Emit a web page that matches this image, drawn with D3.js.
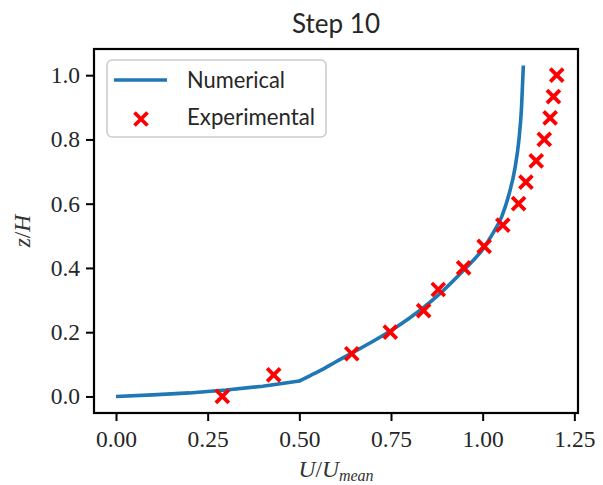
<!DOCTYPE html>
<html>
<head>
<meta charset="utf-8">
<script src="https://cdn.jsdelivr.net/npm/d3@7"></script>
<style>
  html, body { margin: 0; padding: 0; background: #fff; }
  svg { display: block; }
</style>
</head>
<body>
<svg id="chart" width="603" height="485"></svg>
<script>
// Numerical velocity profile (U/Umean vs z/H)
const numU = [0, 0.1, 0.2, 0.25, 0.3, 0.4, 0.5, 0.53, 0.566, 0.6, 0.648, 0.7, 0.748, 0.798, 0.839, 0.884, 0.948, 1.002, 1.029, 1.052, 1.072, 1.088, 1.099, 1.106, 1.111];
const numZ = [0, 0.005, 0.011, 0.0155, 0.02, 0.032, 0.048, 0.065, 0.086, 0.108, 0.138, 0.171, 0.204, 0.242, 0.277, 0.321, 0.393, 0.461, 0.510, 0.560, 0.630, 0.710, 0.800, 0.900, 1.030];
// index of the near-wall kink where the profile changes regime
const kinkIndex = 6;

// Experimental measurements
const expU = [0.29, 0.43, 0.643, 0.748, 0.839, 0.879, 0.948, 1.004, 1.055, 1.098, 1.118, 1.146, 1.168, 1.184, 1.193, 1.202];
const expZ = [0, 0.067, 0.133, 0.2, 0.267, 0.333, 0.4, 0.467, 0.533, 0.6, 0.667, 0.733, 0.8, 0.867, 0.933, 1.0];

const xTicks = [0, 0.25, 0.5, 0.75, 1.0, 1.25];
const yTicks = [0, 0.2, 0.4, 0.6, 0.8, 1.0];
const seriesNames = ["Numerical", "Experimental"];
const titleText = "Step 10";

const svg = d3.select("#chart");
const plot = { left: 94, right: 578, top: 49, bottom: 413 };

const x = d3.scaleLinear().domain([-0.06, 1.26]).range([plot.left, plot.right]);
const y = d3.scaleLinear().domain([-0.0515, 1.0815]).range([plot.bottom, plot.top]);

const serif = "'Liberation Serif', 'DejaVu Serif', serif";
const sans = "Lato, 'Open Sans', 'DejaVu Sans', sans-serif";
const textColor = "#262626";

// clip for data
svg.append("defs").append("clipPath").attr("id", "plotClip")
  .append("rect")
  .attr("x", plot.left).attr("y", plot.top)
  .attr("width", plot.right - plot.left).attr("height", plot.bottom - plot.top);

// x axis
const xAxis = svg.append("g")
  .attr("transform", `translate(0,${plot.bottom})`)
  .call(d3.axisBottom(x).tickValues(xTicks).tickFormat(d3.format(".2f")).tickSize(8).tickPadding(9));
xAxis.select(".domain").remove();
xAxis.selectAll(".tick line").attr("stroke", "#000").attr("stroke-width", 2);
xAxis.selectAll(".tick text")
  .attr("fill", textColor).attr("font-family", serif).attr("font-size", 23.5);

// y axis
const yAxis = svg.append("g")
  .attr("transform", `translate(${plot.left},0)`)
  .call(d3.axisLeft(y).tickValues(yTicks).tickFormat(d3.format(".1f")).tickSize(8).tickPadding(6));
yAxis.select(".domain").remove();
yAxis.selectAll(".tick line").attr("stroke", "#000").attr("stroke-width", 2);
yAxis.selectAll(".tick text")
  .attr("fill", textColor).attr("font-family", serif).attr("font-size", 23.5);

// data layer
const data = svg.append("g").attr("clip-path", "url(#plotClip)");

const pts = numU.map((u, i) => [u, numZ[i]]);
const nearWall = d3.line().x(d => x(d[0])).y(d => y(d[1]));
const outer = d3.line().curve(d3.curveMonotoneX).x(d => x(d[0])).y(d => y(d[1]));
const numPath = nearWall(pts.slice(0, kinkIndex + 1)) + outer(pts.slice(kinkIndex));

data.append("path")
  .attr("d", numPath)
  .attr("fill", "none")
  .attr("stroke", "#1f77b4")
  .attr("stroke-width", 3.6)
  .attr("stroke-linejoin", "round")
  .attr("stroke-linecap", "butt");
// round joint at the kink
data.append("circle")
  .attr("cx", x(numU[kinkIndex])).attr("cy", y(numZ[kinkIndex])).attr("r", 1.8)
  .attr("fill", "#1f77b4");

const half = 6.5;
const crossPath = `M${-half},${-half}L${half},${half}M${-half},${half}L${half},${-half}`;
data.selectAll("path.exp")
  .data(expU)
  .join("path")
  .attr("class", "exp")
  .attr("transform", (d, i) => `translate(${x(d)},${y(expZ[i])})`)
  .attr("d", crossPath)
  .attr("stroke", "#ff0000")
  .attr("stroke-width", 3.8)
  .attr("fill", "none");

// frame
svg.append("rect")
  .attr("x", plot.left).attr("y", plot.top)
  .attr("width", plot.right - plot.left).attr("height", plot.bottom - plot.top)
  .attr("fill", "none").attr("stroke", "#000").attr("stroke-width", 2.2);

// legend
const legend = svg.append("g");
legend.append("rect")
  .attr("x", 107).attr("y", 60).attr("width", 219).attr("height", 77)
  .attr("rx", 5).attr("ry", 5)
  .attr("fill", "#fff").attr("fill-opacity", 0.8)
  .attr("stroke", "#cccccc").attr("stroke-width", 1.6);
legend.append("line")
  .attr("x1", 114).attr("x2", 167).attr("y1", 80).attr("y2", 80)
  .attr("stroke", "#1f77b4").attr("stroke-width", 3.6);
legend.append("path")
  .attr("transform", "translate(141,119)")
  .attr("d", crossPath)
  .attr("stroke", "#ff0000").attr("stroke-width", 3.8).attr("fill", "none");
legend.append("text")
  .attr("x", 187).attr("y", 88)
  .attr("font-family", sans).attr("font-size", 23)
  .attr("textLength", 98).attr("lengthAdjust", "spacingAndGlyphs")
  .attr("fill", textColor).text(seriesNames[0]);
legend.append("text")
  .attr("x", 187).attr("y", 125)
  .attr("font-family", sans).attr("font-size", 23)
  .attr("textLength", 128).attr("lengthAdjust", "spacingAndGlyphs")
  .attr("fill", textColor).text(seriesNames[1]);

// title
svg.append("text")
  .attr("x", (plot.left + plot.right) / 2).attr("y", 33)
  .attr("text-anchor", "middle")
  .attr("font-family", sans).attr("font-size", 27)
  .attr("textLength", 88).attr("lengthAdjust", "spacingAndGlyphs")
  .attr("fill", textColor).text(titleText);

// x label: U/U_mean
const xl = svg.append("text")
  .attr("x", (plot.left + plot.right) / 2).attr("y", 477)
  .attr("text-anchor", "middle")
  .attr("font-family", serif).attr("font-style", "italic")
  .attr("font-size", 23.5).attr("fill", "#333");
xl.append("tspan").text("U");
xl.append("tspan").attr("font-style", "normal").text("/");
xl.append("tspan").text("U");
xl.append("tspan").attr("font-size", 16).attr("dy", 4).text("mean");

// y label: z/H
const yl = svg.append("text")
  .attr("transform", `translate(30,${(plot.top + plot.bottom) / 2}) rotate(-90)`)
  .attr("text-anchor", "middle")
  .attr("font-family", serif).attr("font-style", "italic")
  .attr("font-size", 23.5).attr("fill", "#333");
yl.append("tspan").text("z");
yl.append("tspan").attr("font-style", "normal").text("/");
yl.append("tspan").text("H");
</script>
</body>
</html>
